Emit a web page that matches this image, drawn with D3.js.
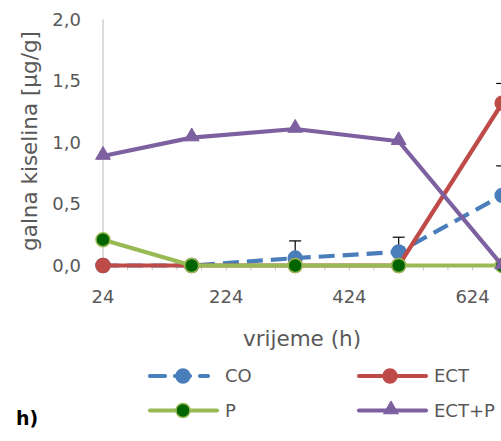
<!DOCTYPE html>
<html><head><meta charset="utf-8">
<script src="https://cdn.jsdelivr.net/npm/d3@7/dist/d3.min.js"></script>
<style>body{margin:0;background:#fff}svg{display:block}</style>
</head><body><svg id="c" width="501" height="441"></svg>
<script>
const hours = [24, 168, 336, 504, 672];
const xTicks = [24, 224, 424, 624];
const yTicks = [0, 0.5, 1.0, 1.5, 2.0];
const coVals = [0, 0, 0.06, 0.11, 0.57];
const coErr = [0, 0, 0.14, 0.12, 0.24];
const ectVals = [0, 0, 0, 0, 1.32];
const ectErr = [0, 0, 0, 0, 0.16];
const pVals = [0.21, 0, 0, 0, 0];
const ectpVals = [0.89, 1.04, 1.11, 1.01, 0];

const svg = d3.select('#c');
const font = 'DejaVu Sans, sans-serif';
const grey = '#595959';
const x = d3.scaleLinear().domain([24, 824]).range([103, 103 + 800 * 0.616]);
const y = d3.scaleLinear().domain([0, 2]).range([265.5, 19.5]);

svg.append('line').attr('x1', x(24)).attr('x2', x(24)).attr('y1', y(2)).attr('y2', y(0))
  .attr('stroke', '#c8c8c8').attr('stroke-width', 1.3);
svg.append('line').attr('x1', x(24)).attr('x2', 501).attr('y1', y(0)).attr('y2', y(0))
  .attr('stroke', '#c8c8c8').attr('stroke-width', 1.3);
const minor = d3.range(24, 824, 40);
svg.selectAll('.mt').data(minor).enter().append('line')
  .attr('x1', d => x(d)).attr('x2', d => x(d)).attr('y1', y(0)).attr('y2', y(0) + 5)
  .attr('stroke', '#c8c8c8').attr('stroke-width', 1);

svg.selectAll('.yt').data(yTicks).enter().append('text')
  .attr('x', 81).attr('y', d => y(d)).attr('dy', '0.36em').attr('text-anchor', 'end')
  .attr('font-family', font).attr('font-size', 18).attr('fill', grey)
  .text(d => d3.format('.1f')(d).replace('.', ','));
svg.selectAll('.xt').data(xTicks).enter().append('text')
  .attr('x', d => x(d)).attr('y', 297).attr('dy', '0.36em').attr('text-anchor', 'middle')
  .attr('font-family', font).attr('font-size', 18).attr('fill', grey)
  .text(d => d);

svg.append('text').attr('transform', 'translate(29,141) rotate(-90)').attr('text-anchor', 'middle')
  .attr('dy', '0.36em').attr('font-family', font).attr('font-size', 21.5).attr('fill', grey)
  .text('galna kiselina [µg/g]');
svg.append('text').attr('x', 302).attr('y', 338).attr('dy', '0.36em').attr('text-anchor', 'middle')
  .attr('font-family', font).attr('font-size', 21.5).attr('fill', grey).text('vrijeme (h)');

const line = d3.line().x(d => x(d[0])).y(d => y(d[1]));
const series = [
  {name: 'CO', vals: coVals, err: coErr, color: '#4a7ebb', dash: '16,8', marker: 'circle', fill: '#4a7ebb', mstroke: '#4a7ebb'},
  {name: 'ECT', vals: ectVals, err: ectErr, color: '#be4b48', dash: null, marker: 'circle', fill: '#be4b48', mstroke: '#be4b48'},
  {name: 'P', vals: pVals, err: null, color: '#98b954', dash: null, marker: 'circle', fill: '#006400', mstroke: '#98b954'},
  {name: 'ECT+P', vals: ectpVals, err: null, color: '#7d60a0', dash: null, marker: 'triangle', fill: '#7d60a0', mstroke: '#7d60a0'}
];
const tri = d3.symbol().type(d3.symbolTriangle).size(95);

function drawMarker(g, cx, cy, s) {
  if (s.marker === 'circle') {
    g.append('circle').attr('cx', cx).attr('cy', cy).attr('r', 7)
      .attr('fill', s.fill).attr('stroke', s.mstroke).attr('stroke-width', 1.5);
  } else {
    g.append('path').attr('d', tri()).attr('transform', `translate(${cx},${cy - 1})`)
      .attr('fill', s.fill).attr('stroke', s.mstroke).attr('stroke-width', 1);
  }
}

series.forEach(s => {
  const g = svg.append('g');
  const pts = hours.map((h, i) => [h, s.vals[i]]);
  if (s.err) {
    pts.forEach((p, i) => {
      if (s.err[i] > 0) {
        const top = y(p[1] + s.err[i]);
        g.append('line').attr('x1', x(p[0])).attr('x2', x(p[0])).attr('y1', y(p[1])).attr('y2', top)
          .attr('stroke', '#000').attr('stroke-width', 1.2);
        g.append('line').attr('x1', x(p[0]) - 6).attr('x2', x(p[0]) + 6).attr('y1', top).attr('y2', top)
          .attr('stroke', '#000').attr('stroke-width', 1.2);
      }
    });
  }
  const path = g.append('path').attr('d', line(pts)).attr('fill', 'none')
    .attr('stroke', s.color).attr('stroke-width', 4.2).attr('stroke-linejoin', 'round');
  if (s.dash) path.attr('stroke-dasharray', s.dash);
  pts.forEach(p => drawMarker(g, x(p[0]), y(p[1]), s));
});

const leg = [
  {s: series[0], lx: 150, ly: 376, len: 58, mx: 183},
  {s: series[1], lx: 359, ly: 376, len: 67, mx: 390},
  {s: series[2], lx: 150, ly: 410.5, len: 67, mx: 183},
  {s: series[3], lx: 359, ly: 410.5, len: 67, mx: 391}
];
leg.forEach(l => {
  const g = svg.append('g');
  const ln = g.append('line').attr('x1', l.lx).attr('x2', l.lx + l.len).attr('y1', l.ly).attr('y2', l.ly)
    .attr('stroke', l.s.color).attr('stroke-width', 4.2).attr('stroke-linecap', 'round');
  if (l.s.dash) ln.attr('stroke-dasharray', '15,10');
  drawMarker(g, l.mx, l.ly, l.s);
  g.append('text').attr('x', l.s.name === 'CO' || l.s.name === 'P' ? 225 : 434).attr('y', l.ly).attr('dy', '0.36em')
    .attr('font-family', font).attr('font-size', 18).attr('fill', grey).text(l.s.name);
});

svg.append('text').attr('x', 16).attr('y', 425)
  .attr('font-family', font).attr('font-size', 19).attr('font-weight', 'bold').attr('fill', '#000').text('h)');
</script></body></html>
